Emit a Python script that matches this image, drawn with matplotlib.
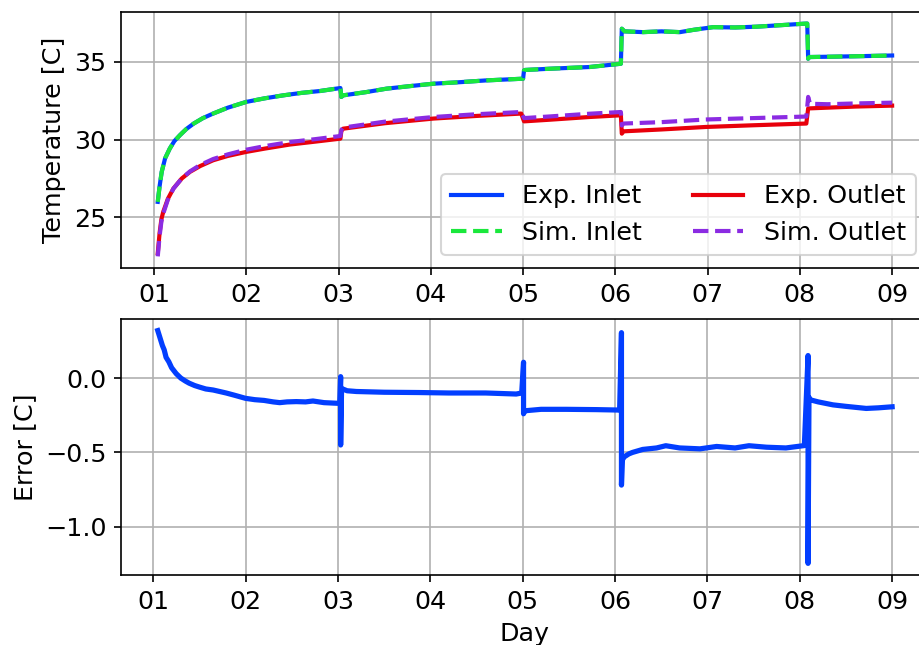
import matplotlib
matplotlib.use('Agg')
import matplotlib.pyplot as plt

plt.rcParams['font.size'] = 12.2

# Inlet temperature (measured and simulated input coincide)
t_inlet = [1.04, 1.06, 1.083, 1.12, 1.17, 1.22, 1.28, 1.35, 1.43, 1.53, 1.64, 1.8,
           2.0, 2.2, 2.4, 2.6, 2.8, 3.02, 3.03, 3.05, 3.3, 3.52, 3.8, 4.03, 4.3, 4.6,
           5.0, 5.01, 5.02, 5.29, 5.72, 6.06, 6.07, 6.1, 6.3, 6.5, 6.7, 6.85, 7.06,
           7.3, 7.53, 7.8, 8.04, 8.08, 8.09, 8.1, 8.3, 8.6, 9.0]
T_inlet_exp = [26.0, 27.0, 27.93, 28.8, 29.42, 29.9, 30.28, 30.68, 31.03, 31.38, 31.67, 32.05,
               32.42, 32.65, 32.84, 33.0, 33.12, 33.31, 32.74, 32.84, 33.05, 33.27, 33.45, 33.59, 33.68, 33.80,
               33.91, 34.44, 34.47, 34.55, 34.66, 34.87, 37.12, 36.95, 36.9, 36.95, 36.9, 37.05, 37.22,
               37.2, 37.25, 37.35, 37.44, 37.45, 35.19, 35.3, 35.32, 35.35, 35.4]
T_inlet_sim = list(T_inlet_exp)

# Outlet temperature, experiment
t_out_exp = [1.04, 1.06, 1.08, 1.10, 1.15, 1.21, 1.3, 1.39, 1.5, 1.64, 1.8, 2.0, 2.2, 2.47,
             2.75, 3.02, 3.03, 3.05, 3.5, 4.03, 4.5, 4.98, 5.01, 5.3, 5.72, 6.06, 6.07, 6.09,
             6.5, 6.98, 7.5, 8.07, 8.09, 8.3, 8.6, 9.0]
T_out_exp = [22.7, 24.0, 24.9, 25.37, 26.2, 26.86, 27.5, 27.93, 28.3, 28.67, 28.95, 29.21, 29.42, 29.68,
             29.87, 30.06, 30.55, 30.70, 31.05, 31.35, 31.52, 31.67, 31.17, 31.28, 31.45, 31.56, 30.38, 30.53,
             30.65, 30.81, 30.92, 31.03, 32.0, 32.05, 32.12, 32.18]

# Outlet temperature, simulation
t_out_sim = [1.04, 1.06, 1.08, 1.10, 1.15, 1.21, 1.3, 1.39, 1.5, 1.64, 1.8, 2.0, 2.2, 2.47,
             2.75, 3.02, 3.03, 3.05, 3.5, 4.03, 4.5, 4.98, 5.01, 5.3, 5.72, 6.06, 6.07, 6.09,
             6.5, 6.98, 7.5, 8.07, 8.09, 8.11, 8.3, 8.6, 9.0]
T_out_sim = [22.5, 23.8, 24.75, 25.25, 26.15, 26.85, 27.5, 27.96, 28.37, 28.75, 29.05, 29.35, 29.58, 29.84,
             30.03, 30.23, 30.62, 30.77, 31.15, 31.45, 31.63, 31.77, 31.38, 31.49, 31.66, 31.77, 30.9, 31.03,
             31.12, 31.29, 31.38, 31.48, 32.74, 32.3, 32.27, 32.32, 32.37]

# Outlet error (experiment - simulation)
t_err = [1.05, 1.06, 1.08, 1.10, 1.12, 1.14, 1.17, 1.2, 1.25, 1.3, 1.35, 1.39, 1.45, 1.5,
         1.57, 1.65, 1.72, 1.79, 1.88, 2.0, 2.1, 2.2, 2.3, 2.37, 2.45, 2.55, 2.65, 2.73,
         2.85, 2.95, 3.02, 3.03, 3.03, 3.04, 3.1, 3.2, 3.5, 3.88, 4.2, 4.6, 4.93, 4.99,
         5.01, 5.01, 5.02, 5.2, 5.47, 5.8, 6.05, 6.07, 6.07, 6.08, 6.10, 6.15, 6.19, 6.3,
         6.45, 6.55, 6.7, 6.92, 7.1, 7.3, 7.45, 7.64, 7.85, 8.05, 8.09, 8.09, 8.10, 8.12,
         8.2, 8.36, 8.5, 8.72, 8.85, 9.0]
err = [0.32, 0.30, 0.26, 0.22, 0.19, 0.14, 0.11, 0.07, 0.03, 0.0, -0.02, -0.034, -0.05, -0.06,
       -0.073, -0.08, -0.09, -0.10, -0.115, -0.136, -0.145, -0.15, -0.16, -0.165, -0.16, -0.158, -0.16, -0.154,
       -0.165, -0.168, -0.17, 0.01, -0.45, -0.07, -0.085, -0.09, -0.095, -0.097, -0.10, -0.10, -0.107, -0.10,
       0.107, -0.24, -0.22, -0.21, -0.21, -0.212, -0.215, 0.306, -0.72, -0.55, -0.53, -0.51, -0.50, -0.48,
       -0.47, -0.455, -0.47, -0.476, -0.46, -0.47, -0.455, -0.465, -0.47, -0.454, 0.152, -1.247, -0.13, -0.147,
       -0.16, -0.18, -0.19, -0.204, -0.2, -0.193]

days = list(range(1, 10))
day_labels = [f'{d:02d}' for d in days]

fig = plt.figure(figsize=(919 / 150, 645 / 150), dpi=150)
ax1 = fig.add_axes([0.1317, 0.5845, 0.879, 0.397])
ax2 = fig.add_axes([0.1317, 0.1085, 0.879, 0.397])

ax1.plot(t_inlet, T_inlet_exp, color='#023eff', lw=2, label='Exp. Inlet')
ax1.plot(t_inlet, T_inlet_sim, '--', color='#1ae83c', lw=2, label='Sim. Inlet')
ax1.plot(t_out_exp, T_out_exp, color='#e8000b', lw=2, label='Exp. Outlet')
ax1.plot(t_out_sim, T_out_sim, '--', color='#8b2be2', lw=2, label='Sim. Outlet')
ax1.set_ylabel('Temperature [C]')
ax1.legend(loc='lower right', ncol=2)

ax2.plot(t_err, err, color='#023eff', lw=2.5)
ax2.set_ylabel('Error [C]')
ax2.set_xlabel('Day')

for ax in (ax1, ax2):
    ax.set_xticks(days)
    ax.set_xticklabels(day_labels)
    ax.grid(True)

plt.savefig('out.png', dpi=150)
